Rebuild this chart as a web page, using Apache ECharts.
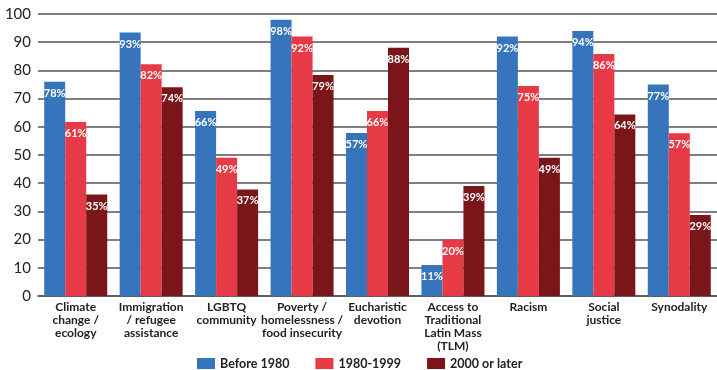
<!DOCTYPE html>
<html>
<head>
<meta charset="utf-8">
<script src="https://cdn.jsdelivr.net/npm/echarts@6/dist/echarts.min.js"></script>
<style>
  html, body { margin: 0; padding: 0; background: #fff; }
  #chart { width: 717px; height: 370px; }
</style>
</head>
<body>
<div id="chart"></div>
<script>
// categories (x axis)
const categories = [
  'Climate\nchange /\necology',
  'Immigration\n/ refugee\nassistance',
  'LGBTQ\ncommunity',
  'Poverty /\nhomelessness /\nfood insecurity',
  'Eucharistic\ndevotion',
  'Access to\nTraditional\nLatin Mass\n(TLM)',
  'Racism',
  'Social\njustice',
  'Synodality'
]

const seriesNames = ['Before 1980', '1980-1999', '2000 or later']

// bar heights as drawn
const before1980 = [76, 93.4, 65.6, 98, 57.8, 11, 92, 94, 75]
const from1980to1999 = [61.7, 82.2, 49, 92, 65.6, 20, 74.5, 85.8, 57.7]
const after2000 = [36, 74, 37.8, 78.4, 88, 39, 49, 64.4, 28.7]

// printed labels
const before1980Labels = [78, 93, 66, 98, 57, 11, 92, 94, 77]
const from1980to1999Labels = [61, 82, 49, 92, 66, 20, 75, 86, 57]
const after2000Labels = [35, 74, 37, 79, 88, 39, 49, 64, 29]

const yTicks = { min: 0, max: 100, interval: 10 }

const colors = ['#3674bb', '#e63a46', '#7a1519']

const makeSeries = (name, values, labels, color) => ({
  name: name,
  type: 'bar',
  data: values,
  barWidth: 21,
  barGap: '0%',
  itemStyle: { color: color },
  label: {
    show: true,
    position: 'insideTop',
    distance: 6,
    color: '#fff',
    fontFamily: 'Lato',
    fontWeight: 'bold',
    fontSize: 11,
    formatter: (p) => labels[p.dataIndex] + '%'
  }
})

const chart = echarts.init(document.getElementById('chart'))

chart.setOption({
  animation: false,
  textStyle: { fontFamily: 'Lato' },
  grid: { left: 38, right: -1, top: 14, bottom: 74 },
  legend: {
    data: seriesNames,
    left: 197,
    top: 357,
    padding: 0,
    itemWidth: 18,
    itemHeight: 11,
    itemGap: 26,
    icon: 'rect',
    textStyle: { fontFamily: 'Lato', fontWeight: 'bold', fontSize: 12.5, color: '#222' }
  },
  xAxis: {
    type: 'category',
    data: categories,
    axisTick: { show: false },
    axisLine: { lineStyle: { color: '#555', width: 1.5 } },
    axisLabel: {
      interval: 0,
      margin: 5,
      color: '#222',
      fontFamily: 'Lato',
      fontWeight: 'bold',
      fontSize: 12,
      lineHeight: 13
    }
  },
  yAxis: {
    type: 'value',
    min: yTicks.min,
    max: yTicks.max,
    interval: yTicks.interval,
    axisLine: { show: false },
    axisTick: { show: false },
    splitLine: { lineStyle: { color: '#555', width: 1.5 } },
    axisLabel: { color: '#222', fontFamily: 'Lato', fontSize: 15, margin: 7 }
  },
  series: [
    makeSeries(seriesNames[0], before1980, before1980Labels, colors[0]),
    makeSeries(seriesNames[1], from1980to1999, from1980to1999Labels, colors[1]),
    makeSeries(seriesNames[2], after2000, after2000Labels, colors[2])
  ]
})
</script>
</body>
</html>
